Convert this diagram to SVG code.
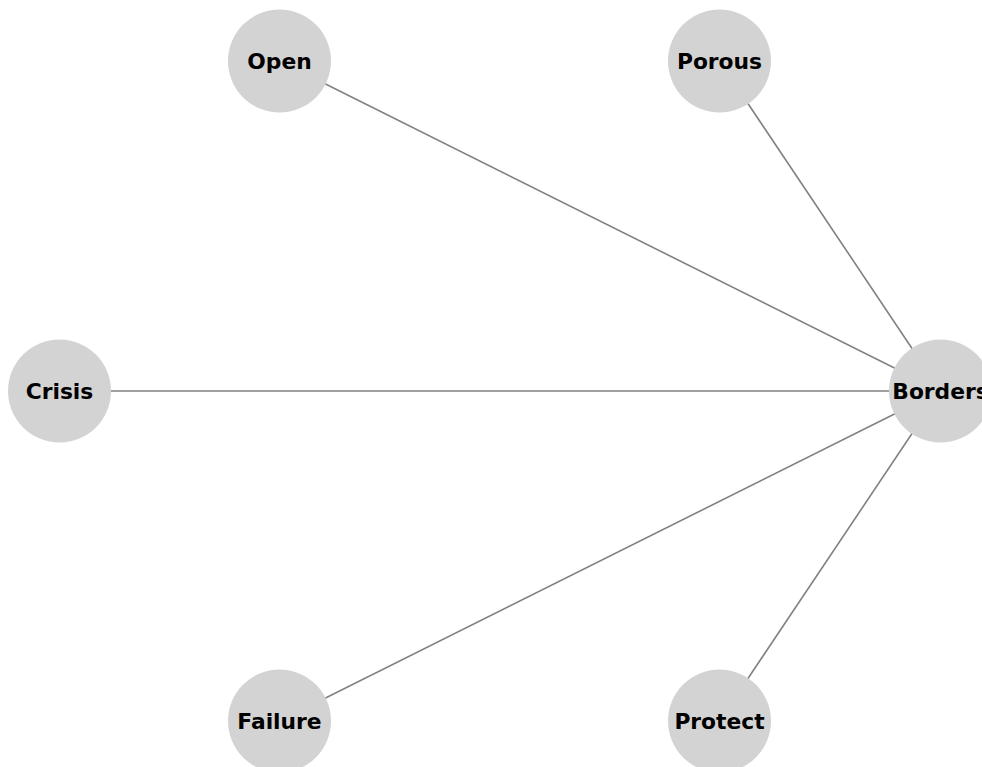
<svg xmlns="http://www.w3.org/2000/svg" width="982" height="767" viewBox="0 0 982 767">
  <style>
    .edge { stroke: #808080; stroke-width: 1.6; fill: none; }
    .node circle { fill: #d3d3d3; }
    .node text { font-family: "DejaVu Sans", sans-serif; font-weight: bold; font-size: 21.8px; fill: #000; text-anchor: middle; dominant-baseline: central; }
  </style>
  <rect width="982" height="767" fill="#ffffff"/>
  <g id="edges">
    <line class="edge" x1="940.5" y1="391" x2="279.5" y2="61"/>
    <line class="edge" x1="940.5" y1="391" x2="719.5" y2="61"/>
    <line class="edge" x1="940.5" y1="391" x2="59.5" y2="391"/>
    <line class="edge" x1="940.5" y1="391" x2="279.5" y2="721"/>
    <line class="edge" x1="940.5" y1="391" x2="719.5" y2="721"/>
  </g>
  <g id="node-open" class="node"><circle cx="279.5" cy="61" r="51.5"/><text x="279.5" y="61">Open</text></g>
  <g id="node-porous" class="node"><circle cx="719.5" cy="61" r="51.5"/><text x="719.5" y="61">Porous</text></g>
  <g id="node-crisis" class="node"><circle cx="59.5" cy="391" r="51.5"/><text x="59.5" y="391">Crisis</text></g>
  <g id="node-borders" class="node"><circle cx="940.5" cy="391" r="51.5"/><text x="940.5" y="391">Borders</text></g>
  <g id="node-failure" class="node"><circle cx="279.5" cy="721" r="51.5"/><text x="279.5" y="721">Failure</text></g>
  <g id="node-protect" class="node"><circle cx="719.5" cy="721" r="51.5"/><text x="719.5" y="721">Protect</text></g>
</svg>
